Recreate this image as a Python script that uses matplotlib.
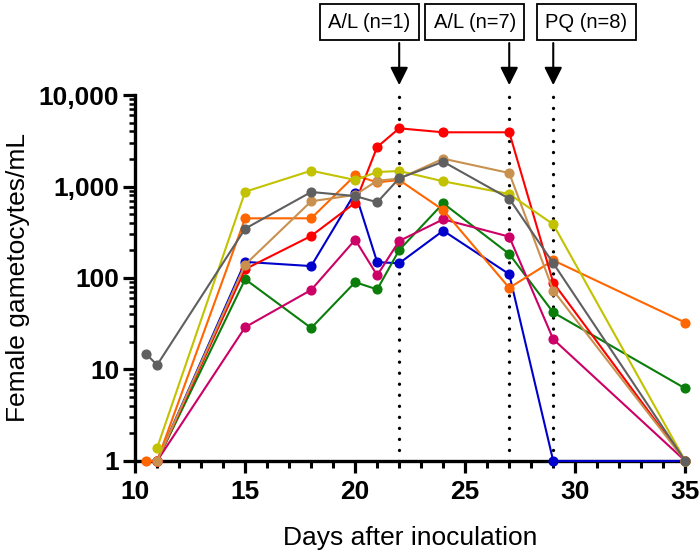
import matplotlib.pyplot as plt
import numpy as np
from matplotlib.ticker import FixedLocator, FuncFormatter, LogLocator, MultipleLocator, NullFormatter

plt.rcParams['font.family'] = ['Liberation Sans', 'DejaVu Sans']

days = [11, 15, 18, 20, 21, 22, 24, 27, 29, 35]
days_early = [10.5] + days

red = [1, 125, 288, 665, 2703, 4325, 3913, 3913, 89, 1]
blue = [1, 150, 135, 855, 149, 145, 329, 110, 1, 1]
green = [1, 97, 28.4, 90, 75, 202, 655, 183, 42, 6.2]
magenta = [1, 29, 74, 262, 107, 254, 438, 283, 21.4, 1]
orange = [1, 1, 449, 449, 1325, 1110, 1178, 553, 78, 156, 32.5]
tan = [1, 140, 689, 810, 1157, 1220, 2014, 1405, 73, 1]
yellow = [1.39, 877, 1489, 1178, 1440, 1477, 1140, 828, 386, 1]
gray = [14.8, 11.2, 346, 871, 787, 672, 1230, 1866, 736, 145, 1]

series = [
    (days, blue, '#0000CC'),
    (days, green, '#0A7D0A'),
    (days, magenta, '#CC0066'),
    (days_early, orange, '#FF6600'),
    (days, red, '#FF0000'),
    (days, tan, '#C8914F'),
    (days, yellow, '#C2C200'),
    (days_early, gray, '#5F5F5F'),
]

treat_days = [22, 27, 29]
treat_labels = ['A/L (n=1)', 'A/L (n=7)', 'PQ (n=8)']
label_shift = [-1.35, -1.57, 1.5]

fig = plt.figure(figsize=(7, 5.55), dpi=100)
ax = fig.add_axes([0.193, 0.1694, 0.786, 0.6594])

for tx in treat_days:
    ax.plot([tx, tx], [1, 10000], color='black', lw=2.4,
            dashes=(0.01, 3.3), dash_capstyle='round', zorder=1, clip_on=False)

for x, y, c in series:
    ax.plot(x, y, color=c, lw=1.5, marker='o', markersize=6.3, clip_on=False, zorder=3)

ax.set_yscale('log')
ax.set_xlim(10, 35)
ax.set_ylim(1, 10000)

ax.yaxis.set_major_locator(FixedLocator([1, 10, 100, 1000, 10000]))
ax.yaxis.set_major_formatter(FuncFormatter(lambda v, p: '{:,.0f}'.format(v)))
ax.yaxis.set_minor_locator(LogLocator(base=10, subs=np.arange(2, 10)))
ax.yaxis.set_minor_formatter(NullFormatter())
ax.xaxis.set_major_locator(MultipleLocator(5))
ax.xaxis.set_minor_locator(MultipleLocator(1))

for side in ['top', 'right']:
    ax.spines[side].set_visible(False)
for side in ['left', 'bottom']:
    ax.spines[side].set_linewidth(2.4)

ax.tick_params(which='major', length=8.5, width=2.3, labelsize=19, pad=3)
ax.tick_params(axis='x', which='major', pad=5)
ax.tick_params(axis='x', which='minor', length=5, width=2.2)
ax.tick_params(axis='y', which='minor', length=4, width=1.8)
for lab in ax.get_xticklabels() + ax.get_yticklabels():
    lab.set_fontweight('bold')

ax.set_xlabel('Days after inoculation', fontsize=19, labelpad=16)
ax.set_ylabel('Female gametocytes/mL', fontsize=19, labelpad=6)

for tx, txt, dx in zip(treat_days, treat_labels, label_shift):
    ax.annotate('', xy=(tx, 1.027), xycoords=('data', 'axes fraction'),
                xytext=(tx, 1.142), textcoords=('data', 'axes fraction'),
                arrowprops=dict(arrowstyle='-|>', color='black', lw=1.5,
                                mutation_scale=27, shrinkA=0, shrinkB=0))
    ax.text(tx + dx, 1.199, txt, transform=ax.get_xaxis_transform(),
            ha='center', va='center', fontsize=14.5,
            bbox=dict(boxstyle='square,pad=0.42', fc='white', ec='black', lw=1.3))

fig.savefig('out.png', dpi=100)
